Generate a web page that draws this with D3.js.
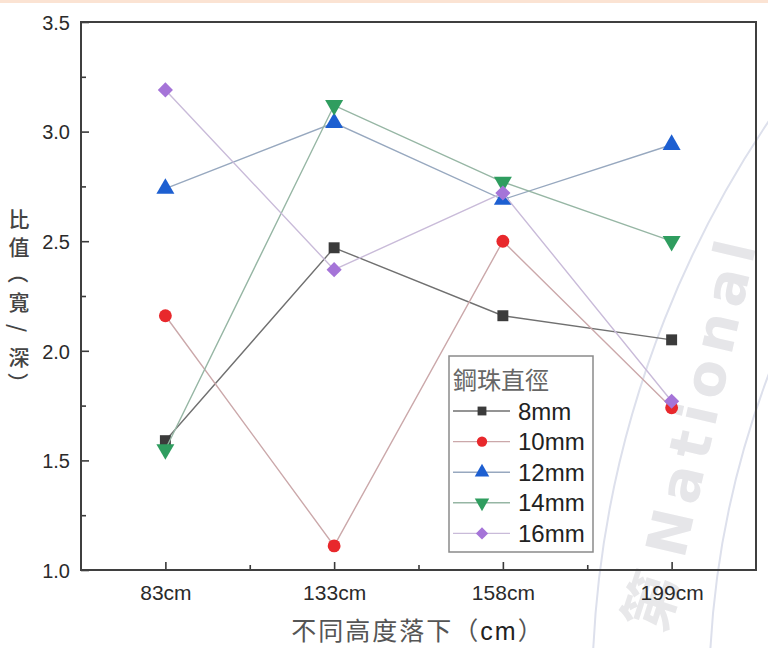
<!DOCTYPE html>
<html>
<head>
<meta charset="utf-8">
<script src="https://cdn.jsdelivr.net/npm/d3@7"></script>
<style>
  html, body { margin: 0; padding: 0; background: #fff; }
  svg { display: block; }
</style>
</head>
<body>
<svg id="chart" width="768" height="648"></svg>
<script>
// Drop heights (x categories)
const heights = ["83cm", "133cm", "158cm", "199cm"];

// Width/depth ratio per steel ball diameter
const series = ["8mm", "10mm", "12mm", "14mm", "16mm"];
const ratio8mm  = [1.59, 2.47, 2.16, 2.05];
const ratio10mm = [2.16, 1.11, 2.50, 1.74];
const ratio12mm = [2.74, 3.04, 2.69, 2.94];
const ratio14mm = [1.55, 3.12, 2.77, 2.50];
const ratio16mm = [3.19, 2.37, 2.72, 1.77];

// Y axis ticks
const yTicks = [1.0, 1.5, 2.0, 2.5, 3.0, 3.5];
const yMinorTicks = [1.25, 1.75, 2.25, 2.75, 3.25];

const values = [ratio8mm, ratio10mm, ratio12mm, ratio14mm, ratio16mm];
const markerColors = ["#3b3b3b", "#e8282c", "#1d5fd1", "#2f9d5f", "#a574d8"];
const lineColors   = ["#707070", "#cba8aa", "#97a8bf", "#96b6a4", "#c9bbd9"];
const symbols = [d3.symbolSquare, d3.symbolCircle, d3.symbolTriangle, d3.symbolTriangle, d3.symbolSquare];
const symbolSizes = [120, 130, 140, 140, 115];
const symbolRotate = [0, 0, 0, 180, 45];

const svg = d3.select("#chart");
const W = 768, H = 648;
const plot = { left: 81, right: 756, top: 22, bottom: 570 };

const x = d3.scaleLinear().domain([-0.5, heights.length - 0.5]).range([plot.left, plot.right]);
const y = d3.scaleLinear().domain([1.0, 3.5]).range([plot.bottom, plot.top]);

// page background and top band
svg.append("rect").attr("width", W).attr("height", H).attr("fill", "#fff");
svg.append("rect").attr("width", W).attr("height", 3).attr("fill", "#fbe3d3");

// faint seal watermark
const wm = svg.append("g").attr("class", "watermark");
const C = [1627, 700];
[1035, 918].forEach(r => {
  wm.append("circle").attr("cx", C[0]).attr("cy", C[1]).attr("r", r)
    .attr("fill", "none").attr("stroke", "#dde0ec").attr("stroke-width", 2);
});
wm.append("text")
  .attr("transform", "translate(684,560) rotate(-77)")
  .attr("font-family", "DejaVu Sans, sans-serif").attr("font-weight", 700)
  .attr("font-size", 56).attr("fill", "#e6e6e9").attr("letter-spacing", 8)
  .text("National");
wm.append("text")
  .attr("transform", "translate(648,600) rotate(-72)")
  .attr("text-anchor", "middle").attr("dominant-baseline", "central")
  .attr("font-family", "Noto Sans CJK TC, sans-serif").attr("font-weight", 700)
  .attr("font-size", 58).attr("fill", "#e8e8ea")
  .text("第");

// axes (ticks point inward)
const yAxis = d3.axisLeft(y).tickValues(yTicks).tickFormat(d3.format(".1f"))
  .tickSize(-8).tickPadding(11);
const gy = svg.append("g").attr("transform", `translate(${plot.left},0)`).call(yAxis);
gy.selectAll(".tick text").attr("font-size", 20).attr("dy", "0.36em");
svg.append("g").attr("transform", `translate(${plot.left},0)`)
  .call(d3.axisLeft(y).tickValues(yMinorTicks).tickFormat("").tickSize(-5));

const xAxis = d3.axisBottom(x).tickValues(d3.range(heights.length))
  .tickFormat(i => heights[i]).tickSize(-8).tickPadding(15);
const gx = svg.append("g").attr("transform", `translate(0,${plot.bottom})`).call(xAxis);
gx.selectAll(".tick text").attr("font-size", 21);
svg.append("g").attr("transform", `translate(0,${plot.bottom})`)
  .call(d3.axisBottom(x).tickValues(d3.range(heights.length - 1).map(i => i + 0.5))
    .tickFormat("").tickSize(-5));

svg.selectAll(".domain").remove();
svg.selectAll(".tick line").attr("stroke", "#3a3a3a").attr("stroke-width", 1.6);
svg.selectAll(".tick text").attr("fill", "#2a2a2a")
  .attr("font-family", "Liberation Sans, Arial, sans-serif");

// frame
svg.append("rect")
  .attr("x", plot.left).attr("y", plot.top)
  .attr("width", plot.right - plot.left).attr("height", plot.bottom - plot.top)
  .attr("fill", "none").attr("stroke", "#3f3f3f").attr("stroke-width", 2);

// series lines and markers
const line = d3.line().x((d, i) => x(i)).y(d => y(d));
series.forEach((name, s) => {
  const g = svg.append("g");
  g.append("path").datum(values[s]).attr("d", line)
    .attr("fill", "none").attr("stroke", lineColors[s]).attr("stroke-width", 1.4);
  g.selectAll("path.pt").data(values[s]).join("path").attr("class", "pt")
    .attr("transform", (d, i) => `translate(${x(i)},${y(d)}) rotate(${symbolRotate[s]})`)
    .attr("d", d3.symbol().type(symbols[s]).size(symbolSizes[s]))
    .attr("fill", markerColors[s]);
});

// legend
const lg = svg.append("g");
lg.append("rect").attr("x", 449).attr("y", 356).attr("width", 144).attr("height", 196)
  .attr("fill", "#fff").attr("stroke", "#8a8a8a").attr("stroke-width", 1.5);
lg.append("text").attr("x", 453).attr("y", 389)
  .attr("font-family", "Noto Sans CJK TC, sans-serif").attr("font-size", 24)
  .attr("fill", "#666").text("鋼珠直徑");
series.forEach((name, s) => {
  const cy = 411 + s * 30.6;
  lg.append("line").attr("x1", 453).attr("x2", 510).attr("y1", cy).attr("y2", cy)
    .attr("stroke", lineColors[s]).attr("stroke-width", 1.4);
  lg.append("path")
    .attr("transform", `translate(482,${cy}) rotate(${symbolRotate[s]})`)
    .attr("d", d3.symbol().type(symbols[s]).size(symbolSizes[s] * 0.65))
    .attr("fill", markerColors[s]);
  lg.append("text").attr("x", 518).attr("y", cy).attr("dy", "0.36em")
    .attr("font-family", "Liberation Sans, Arial, sans-serif").attr("font-size", 24)
    .attr("fill", "#222").text(name);
});

// x axis title
const xt = svg.append("text")
  .attr("x", 418).attr("y", 640).attr("text-anchor", "middle")
  .attr("font-family", "Noto Sans CJK TC, sans-serif").attr("font-size", 25)
  .attr("fill", "#555").attr("letter-spacing", 2);
xt.append("tspan").text("不同高度落下（");
xt.append("tspan").attr("fill", "#222").attr("font-weight", 500)
  .attr("font-family", "Liberation Sans, Arial, sans-serif").text("cm");
xt.append("tspan").text("）");

// y axis title, stacked vertically one glyph per row
const yTitle = Array.from("比值（寬/深）");
svg.append("g").selectAll("text").data(yTitle).join("text")
  .attr("transform", (c, i) => {
    const cy = 218 + i * 27.5;
    return /[（）\/]/.test(c) ? `translate(19,${cy}) rotate(90)` : `translate(19,${cy})`;
  })
  .attr("text-anchor", "middle").attr("dominant-baseline", "central")
  .attr("font-family", "Noto Sans CJK TC, sans-serif").attr("font-size", 21)
  .attr("font-weight", 500).attr("fill", "#444")
  .text(c => c);
</script>
</body>
</html>
